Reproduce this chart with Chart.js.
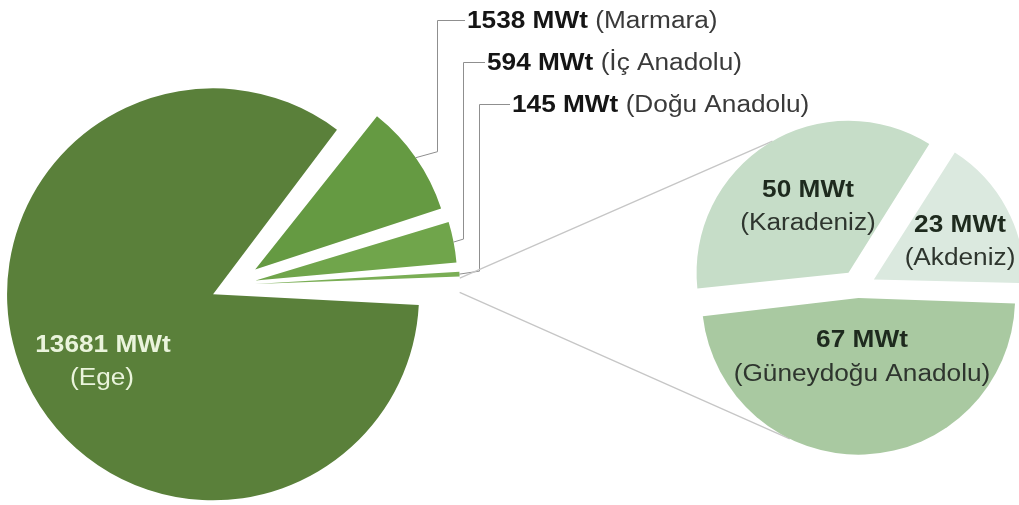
<!DOCTYPE html>
<html lang="tr">
<head>
<meta charset="UTF-8">
<title>Bölgelere göre jeotermal ısı kapasitesi</title>
<script src="https://cdn.jsdelivr.net/npm/chart.js@4.4.1/dist/chart.umd.min.js"></script>
<style>
  html, body { margin: 0; padding: 0; background: #fff; }
  .wrap { position: relative; width: 1019px; height: 505px; overflow: hidden; }
  .wrap canvas { position: absolute; left: 0; top: 0; }
</style>
</head>
<body>
<div class="wrap">
  <canvas id="mainPie" width="1019" height="505"></canvas>
  <canvas id="subPie" width="1019" height="505"></canvas>
</div>
<script>
// ana pasta (MWt)
const mainRegions = ['Ege', 'Marmara', 'İç Anadolu', 'Doğu Anadolu'];
const mainValues = [13681, 1538, 594, 145];
// küçük bölgeler, ikinci pastada açılıyor (MWt)
const subRegions = ['Karadeniz', 'Akdeniz', 'Güneydoğu Anadolu'];
const subValues = [50, 23, 67];
const unit = 'MWt';

const otherTotal = subValues.reduce((a, b) => a + b, 0);

const mainColors = ['#5a803a', '#659a42', '#70a54b', '#7aae55', 'rgba(0,0,0,0)'];
const subColors = ['#c6ddc8', '#dbe9df', '#a9c9a1'];

const FONT = '"Liberation Sans", Arial, sans-serif';
const BOLD = 'bold 23px ' + FONT;
const NORMAL = '23px ' + FONT;
const SX = 1.14; // yazılar biraz geniş

function textWidth(ctx, s, font) {
    ctx.save();
    ctx.font = font;
    const w = ctx.measureText(s).width * SX;
    ctx.restore();
    return w;
}

function putText(ctx, s, x, y, font, color) {
    ctx.save();
    ctx.font = font;
    ctx.fillStyle = color;
    ctx.textAlign = 'left';
    ctx.textBaseline = 'alphabetic';
    ctx.translate(x, y);
    ctx.scale(SX, 1);
    ctx.fillText(s, 0, 0);
    ctx.restore();
}

function putCentered(ctx, s, cx, y, font, color) {
    putText(ctx, s, cx - textWidth(ctx, s, font) / 2, y, font, color);
}

// dilimin kaydırılmış hâlinde kenar üzerindeki nokta
function arcPoint(arc, angle) {
    const p = arc.getProps(['x', 'y', 'startAngle', 'endAngle', 'outerRadius', 'circumference']);
    const shift = (arc.options.offset || 0) / 4;
    const mid = (p.startAngle + p.endAngle) / 2;
    const r = p.outerRadius + shift * (1 - Math.sin(Math.min(Math.PI, p.circumference)));
    return {
        x: p.x + Math.cos(mid) * shift + Math.cos(angle) * r,
        y: p.y + Math.sin(mid) * shift + Math.sin(angle) * r
    };
}

function midAngle(arc) {
    return (arc.startAngle + arc.endAngle) / 2;
}

// dışarıdaki etiketler: yazı başı, taban çizgisi, kırılma noktası
const outside = [
    { x: 467, y: 28, ex: 437, dy: 6 },
    { x: 487, y: 70, ex: 463, dy: 3 },
    { x: 512, y: 112, ex: 479, dy: 3 }
];

const mainLabels = {
    id: 'mainLabels',
    afterDatasetsDraw(chart) {
        const ctx = chart.ctx;
        const arcs = chart.getDatasetMeta(0).data;

        // Ege, dilimin içinde
        const ege = `${mainValues[0]} ${unit}`;
        putCentered(ctx, ege, 103, 352, BOLD, '#eaf4dc');
        putCentered(ctx, `(${mainRegions[0]})`, 102, 385, NORMAL, '#eaf4dc');

        // diğerleri kılavuz çizgileriyle
        ctx.save();
        ctx.strokeStyle = '#8f8f8f';
        ctx.lineWidth = 1;
        outside.forEach((o, k) => {
            const i = k + 1;
            const p = arcPoint(arcs[i], midAngle(arcs[i]));
            const ly = o.y - 8;
            ctx.beginPath();
            ctx.moveTo(p.x, p.y);
            ctx.lineTo(o.ex + 0.5, p.y - o.dy);
            ctx.lineTo(o.ex + 0.5, ly + 0.5);
            ctx.lineTo(o.x - 2, ly + 0.5);
            ctx.stroke();

            const head = `${mainValues[i]} ${unit}`;
            putText(ctx, head, o.x, o.y, BOLD, '#151515');
            putText(ctx, ` (${mainRegions[i]})`, o.x + textWidth(ctx, head, BOLD), o.y, NORMAL, '#3a3a3a');
        });
        ctx.restore();
    }
};

const mainChart = new Chart(document.getElementById('mainPie'), {
    type: 'pie',
    data: {
        labels: [...mainRegions, 'Diğer'],
        datasets: [{
            data: [...mainValues, otherTotal],
            backgroundColor: mainColors,
            borderWidth: 0,
            offset: [88, 108, 92, 88, 88],
            clip: false
        }]
    },
    options: {
        responsive: false,
        animation: false,
        events: [],
        radius: 184,
        rotation: 92,
        layout: { padding: { left: 0, right: 553, top: 65, bottom: 0 } },
        plugins: { legend: { display: false }, tooltip: { enabled: false } }
    },
    plugins: [mainLabels]
});

// ikinci pastanın etiketleri (orta x, iki satırın taban çizgileri)
const subLabelPos = [
    { x: 808, y1: 197, y2: 230 },
    { x: 960, y1: 232, y2: 265 },
    { x: 862, y1: 347, y2: 381 }
];

const subLabels = {
    id: 'subLabels',
    beforeDatasetsDraw(chart) {
        // ana pastadaki "Diğer" diliminden ikinci pastaya bağlantı
        const other = mainChart.getDatasetMeta(0).data[4];
        const arcs = chart.getDatasetMeta(0).data;
        const a = arcPoint(other, other.startAngle);
        const b = arcPoint(other, other.endAngle);
        const top = arcPoint(arcs[0], 240 * Math.PI / 180);
        const bottom = arcPoint(arcs[2], 116 * Math.PI / 180);
        const ctx = chart.ctx;
        ctx.save();
        ctx.strokeStyle = '#c6c6c6';
        ctx.lineWidth = 1.3;
        ctx.beginPath();
        ctx.moveTo(a.x, a.y - 3);
        ctx.lineTo(top.x, top.y);
        ctx.moveTo(b.x, b.y);
        ctx.lineTo(bottom.x, bottom.y);
        ctx.stroke();
        ctx.restore();
    },
    afterDatasetsDraw(chart) {
        const ctx = chart.ctx;
        subLabelPos.forEach((o, i) => {
            putCentered(ctx, `${subValues[i]} ${unit}`, o.x, o.y1, BOLD, '#1e2a1e');
            putCentered(ctx, `(${subRegions[i]})`, o.x, o.y2, NORMAL, '#2e352e');
        });
    }
};

const subChart = new Chart(document.getElementById('subPie'), {
    type: 'pie',
    data: {
        labels: subRegions,
        datasets: [{
            data: subValues,
            backgroundColor: subColors,
            borderWidth: 0,
            offset: [72, 72, 40],
            clip: false
        }]
    },
    options: {
        responsive: false,
        animation: false,
        events: [],
        radius: 148,
        rotation: 263.8,
        layout: { padding: { left: 697, right: 0, top: 71, bottom: 0 } },
        plugins: { legend: { display: false }, tooltip: { enabled: false } }
    },
    plugins: [subLabels]
});
</script>
</body>
</html>
